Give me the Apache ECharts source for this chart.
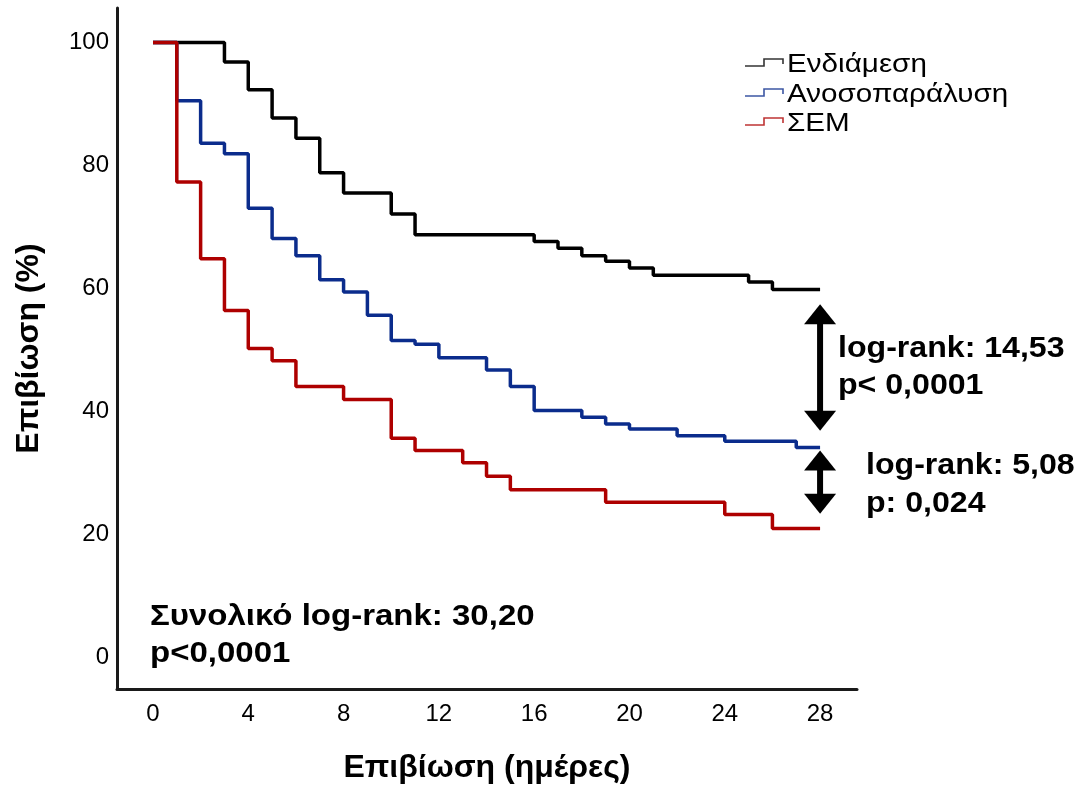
<!DOCTYPE html>
<html>
<head>
<meta charset="utf-8">
<script src="https://cdn.jsdelivr.net/npm/echarts@6/dist/echarts.min.js"></script>
<style>
  html, body { margin: 0; padding: 0; background: #fff; }
  #chart { width: 1080px; height: 789px; }
</style>
</head>
<body>
<div id="chart"></div>
<script>
// Kaplan–Meier survival (%) by group, steps at day of event
const groupNames = ['Ενδιάμεση', 'Ανοσοπαράλυση', 'ΣΕΜ'];
const groupColors = ['#000000', '#0b2c8c', '#ae0000'];

const survIntermediate = [
  [0, 100], [3, 96.8], [4, 92.3], [5, 87.7], [6, 84.4], [7, 78.8], [8, 75.5],
  [10, 72.1], [11, 68.7], [16, 67.6], [17, 66.5], [18, 65.3], [19, 64.4],
  [20, 63.3], [21, 62.1], [25, 61.0], [26, 59.8], [28, 59.8]
];
const survImmunoparalysis = [
  [0, 100], [1, 90.5], [2, 83.6], [3, 81.9], [4, 73.0], [5, 68.1], [6, 65.3],
  [7, 61.4], [8, 59.4], [9, 55.6], [10, 51.5], [11, 50.9], [12, 48.7],
  [14, 46.7], [15, 44.0], [16, 40.1], [18, 39.0], [19, 37.9], [20, 37.1],
  [22, 36.0], [24, 35.1], [27, 34.1], [28, 34.1]
];
const survSEM = [
  [0, 100], [1, 77.3], [2, 64.8], [3, 56.4], [4, 50.2], [5, 48.2], [6, 44.0],
  [8, 41.9], [10, 35.6], [11, 33.6], [13, 31.6], [14, 29.4], [15, 27.2],
  [19, 25.2], [24, 23.2], [26, 20.9], [28, 20.9]
];

const xTickValues = [0, 4, 8, 12, 16, 20, 24, 28];
const yTickValues = [0, 20, 40, 60, 80, 100];

// pairwise comparison arrows: [day, upper %, lower %]
const comparisonArrows = [
  [28, 57.4, 36.8],
  [28, 33.6, 23.3]
];

const chart = echarts.init(document.getElementById('chart'), null, { renderer: 'canvas' });

const FONT = '"Liberation Sans", Arial, Helvetica, sans-serif';
const axisStroke = { color: '#1a1a1a', width: 3 };

// later groups are drawn on top (red over blue over black)
const kmSeries = [survIntermediate, survImmunoparalysis, survSEM].map((data, i) => ({
  name: groupNames[i],
  type: 'line',
  step: 'end',
  data: data,
  symbol: 'none',
  lineStyle: { color: groupColors[i], width: 3.5 },
  itemStyle: { color: groupColors[i] },
  z: 2 + i,
  animation: false
}));

const arrowSeries = {
  type: 'custom',
  data: comparisonArrows,
  silent: true,
  animation: false,
  z: 6,
  renderItem: function (params, api) {
    const top = api.coord([api.value(0), api.value(1)]);
    const bot = api.coord([api.value(0), api.value(2)]);
    const headLen = 20, headHalf = 16;
    return {
      type: 'group',
      children: [
        {
          type: 'line',
          shape: { x1: top[0], y1: top[1] + headLen - 1, x2: bot[0], y2: bot[1] - headLen + 1 },
          style: { stroke: '#000', lineWidth: 6 }
        },
        {
          type: 'polygon',
          shape: { points: [[top[0], top[1]], [top[0] - headHalf, top[1] + headLen], [top[0] + headHalf, top[1] + headLen]] },
          style: { fill: '#000' }
        },
        {
          type: 'polygon',
          shape: { points: [[bot[0], bot[1]], [bot[0] - headHalf, bot[1] - headLen], [bot[0] + headHalf, bot[1] - headLen]] },
          style: { fill: '#000' }
        }
      ]
    };
  }
};

function boldText(x, y, text, size, sx) {
  return {
    type: 'text',
    x: x,
    y: y,
    scaleX: sx,
    style: {
      text: text,
      font: 'bold ' + size + 'px ' + FONT,
      fill: '#000',
      align: 'left',
      verticalAlign: 'middle'
    }
  };
}

// step-shaped legend keys with group names
function legendItems() {
  const items = [];
  const rowY = [65, 95, 124];
  groupNames.forEach((name, i) => {
    const y = rowY[i];
    items.push({
      type: 'polyline',
      shape: { points: [[745, y + 1], [764, y + 1], [764, y - 6], [783, y - 6], [783, y - 1]] },
      style: { stroke: groupColors[i], lineWidth: 1.6, fill: null, opacity: 0.8 }
    });
    items.push({
      type: 'text',
      x: 787,
      y: y,
      scaleX: 1.14,
      style: {
        text: name,
        font: '26px ' + FONT,
        fill: '#000',
        align: 'left',
        verticalAlign: 'middle'
      }
    });
  });
  return items;
}

chart.setOption({
  backgroundColor: '#ffffff',
  animation: false,
  textStyle: { fontFamily: FONT },
  grid: { left: 117, right: 223, top: 8, bottom: 96, containLabel: false },
  xAxis: {
    type: 'value',
    min: -1.51,
    max: 29.55,
    name: 'Επιβίωση (ημέρες)',
    nameLocation: 'middle',
    nameGap: 63,
    nameTextStyle: { fontSize: 32, fontWeight: 'bold', color: '#000', fontFamily: FONT },
    axisLine: { show: true, onZero: false, lineStyle: axisStroke },
    axisTick: { show: false },
    splitLine: { show: false },
    axisLabel: {
      customValues: xTickValues,
      fontSize: 24,
      color: '#000',
      margin: 13,
      fontFamily: FONT
    }
  },
  yAxis: {
    type: 'value',
    min: -5.2,
    max: 105.6,
    name: 'Επιβίωση (%)',
    nameLocation: 'middle',
    nameGap: 72,
    nameRotate: 90,
    nameTextStyle: { fontSize: 32, fontWeight: 'bold', color: '#000', fontFamily: FONT },
    axisLine: { show: true, onZero: false, lineStyle: axisStroke },
    axisTick: { show: false },
    splitLine: { show: false },
    axisLabel: {
      customValues: yTickValues,
      fontSize: 24,
      color: '#000',
      margin: 8,
      padding: [5, 0, 0, 0],
      fontFamily: FONT
    }
  },
  series: kmSeries.concat([arrowSeries]),
  graphic: [
    boldText(838, 349, 'log-rank: 14,53', 30, 1.07),
    boldText(838, 386, 'p< 0,0001', 30, 1.07),
    boldText(866, 466, 'log-rank: 5,08', 30, 1.07),
    boldText(866, 504, 'p: 0,024', 30, 1.07),
    boldText(150, 617, 'Συνολικό log-rank: 30,20', 30, 1.10),
    boldText(150, 654, 'p<0,0001', 30, 1.10)
  ].concat(legendItems())
});
</script>
</body>
</html>
